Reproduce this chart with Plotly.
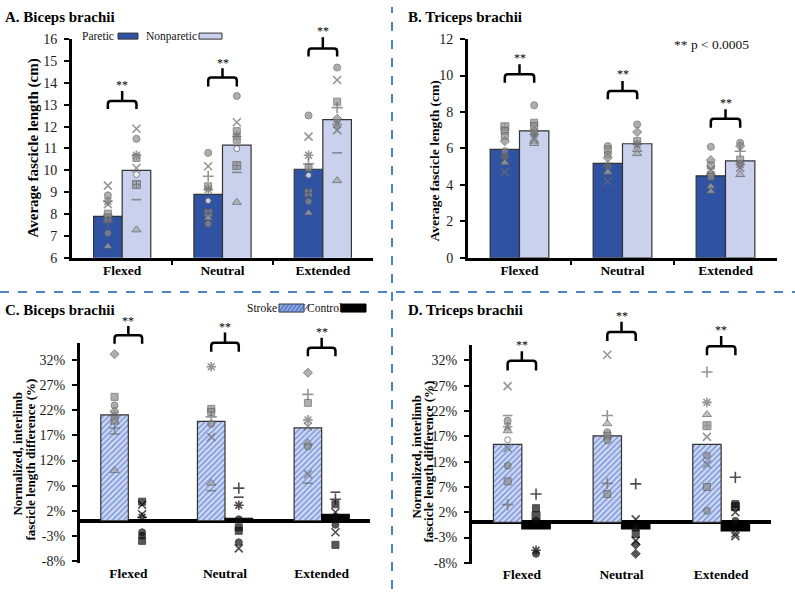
import plotly.graph_objects as go

FIG_W, FIG_H = 795, 597
FONT = "Liberation Serif"

categories = ["Flexed", "Neutral", "Extended"]

# ---------------- Panel A: Biceps brachii, average fascicle length (cm)
A_paretic_mean = [7.9, 8.9, 10.05]
A_nonparetic_mean = [10.0, 11.15, 12.32]
A_paretic_pts = [
    [9.30, 8.86, 8.58, 8.45, 8.02, 7.82, 7.62, 7.13, 6.52],
    [10.80, 10.19, 9.73, 9.27, 9.12, 8.61, 8.05, 7.82, 7.56],
    [12.51, 11.54, 10.69, 10.30, 10.11, 9.78, 8.97, 8.58, 8.05],
]
A_paretic_sym = ["x o * x s q + o t", "o x + s * w q t o", "o x * + s w q o t"]
A_nonparetic_pts = [
    [11.90, 11.44, 10.69, 10.57, 10.11, 9.81, 9.35, 8.66, 7.28],
    [13.40, 12.20, 11.79, 11.56, 11.40, 10.99, 10.22, 9.91, 8.54],
    [14.70, 14.13, 13.14, 12.87, 12.36, 12.10, 11.84, 10.80, 9.53],
]
A_nonparetic_sym = ["x o * s x w q - t", "o x s * s w q - t", "o x s + d * x - t"]

# ---------------- Panel B: Triceps brachii, average fascicle length (cm)
B_paretic_mean = [5.95, 5.18, 4.5]
B_nonparetic_mean = [6.97, 6.26, 5.32]
B_paretic_pts = [
    [7.19, 6.95, 6.68, 6.40, 5.85, 5.58, 5.39, 5.21, 4.70],
    [6.13, 5.94, 5.67, 5.49, 5.06, 4.88, 4.70, 4.20],
    [6.09, 5.36, 5.06, 4.84, 4.57, 4.44, 3.92, 3.65],
]
B_paretic_sym = ["q s s d o * x t x", "o s o d * x t x", "o d s x * s t t"]
B_nonparetic_pts = [
    [8.37, 7.41, 7.23, 6.95, 6.77, 6.59, 6.40, 6.27],
    [7.32, 6.90, 6.40, 6.22, 5.94, 5.72],
    [6.31, 6.13, 5.85, 5.39, 5.12, 4.94, 4.57],
]
B_nonparetic_sym = ["o s s d * x t t", "o d s * t t", "o d + s * x t"]

# ---------------- Panel C: Biceps brachii, normalized interlimb difference (%)
C_stroke_mean = [21.1, 19.8, 18.5]
C_control_mean = [0.2, 0.5, 1.3]
C_stroke_pts = [
    [33.2, 24.7, 23.0, 21.8, 21.0, 20.3, 19.7, 18.5, 17.3, 10.0],
    [30.7, 22.3, 21.7, 20.7, 19.3, 16.7, 7.5, 6.0],
    [29.5, 25.2, 23.5, 20.1, 18.8, 15.5, 14.8, 9.3, 7.5],
]
C_stroke_sym = ["d s o d * s t + - t", "* s s + o x t -", "d + s * x t o x -"]
C_control_pts = [
    [3.8, 3.2, 1.3, 0.7, -2.3, -3.0, -4.0],
    [6.5, 4.7, 3.1, 0.3, -1.3, -2.0, -4.3, -5.5],
    [5.7, 4.3, 3.3, 1.7, 0.7, -0.8, -2.3, -4.8],
]
C_control_sym = ["s x x * o o s", "+ - * o s s o x", "- + s x d o x s"]

# ---------------- Panel D: Triceps brachii, normalized interlimb difference (%)
D_stroke_mean = [15.4, 17.1, 15.4]
D_control_mean = [-1.3, -1.3, -1.7]
D_stroke_pts = [
    [26.9, 21.1, 20.1, 18.9, 18.1, 16.3, 14.7, 11.2, 8.1, 3.5],
    [33.1, 21.1, 19.5, 17.8, 17.1, 16.2, 7.7, 5.6],
    [29.7, 23.7, 21.3, 19.1, 16.9, 13.2, 11.5, 7.0, 2.3],
]
D_stroke_sym = ["x - o * t w x o s +", "x + t o s o + s", "+ * t q x o x s o"]
D_control_pts = [
    [5.6, 2.8, 1.3, 0.3, -0.3, -5.5, -6.2],
    [7.6, 0.6, -1.0, -2.3, -3.6, -4.4, -6.2],
    [8.9, 3.6, 3.1, 2.0, 0.3, -2.2, -2.7],
]
D_control_sym = ["+ s q o x * o", "+ x s s x d d", "+ s q x o x x"]

# significance bracket levels: (down ends, horizontal, stem top, stars)
A_brackets = [(12.8, 13.17, 13.63, 14.0), (13.83, 14.24, 14.67, 15.0), (15.2, 15.57, 16.08, 16.46)]
B_brackets = [(9.61, 10.07, 10.62, 11.08), (8.7, 9.15, 9.7, 10.17), (7.14, 7.63, 8.15, 8.6)]
C_brackets = [(35.3, 37.0, 38.8, 40.3), (33.7, 35.5, 37.5, 39.0), (32.8, 34.5, 36.5, 38.1)]
D_brackets = [(30.0, 31.9, 33.8, 35.4), (35.8, 37.6, 39.6, 41.1), (33.0, 34.8, 36.8, 38.3)]

# ---------------- layout geometry (target pixels)
BW = 0.285  # bar width in category units
PANELS = {
    "A": dict(ax="", xd=(72, 373), yd=(40, 258), yr=(6, 16)),
    "B": dict(ax="2", xd=(468, 777), yd=(40, 258), yr=(0, 12)),
    "C": dict(ax="3", xd=(80, 370), yd=(343, 562), yr=(-8.4, 35.4)),
    "D": dict(ax="4", xd=(472, 771), yd=(345, 563), yr=(-8.2, 35.0)),
}

# the photographed page maps page-y to picture-y as 8 + y*580/597; compensate
Y_OFF, Y_SCALE = 8.0, 580.0 / 597.0


def pxx(p, xv):
    g = PANELS[p]
    return g["xd"][0] + (xv + 0.5) / 3 * (g["xd"][1] - g["xd"][0])


def pxy(p, yv):
    g = PANELS[p]
    r0, r1 = g["yr"]
    return g["yd"][1] - (yv - r0) / (r1 - r0) * (g["yd"][1] - g["yd"][0])


def PX(x):
    return x / FIG_W


def PY(y):
    ypage = (y - Y_OFF) / Y_SCALE
    return 1 - ypage / FIG_H


GREY_FILL = "#8c8c8c"
GREY_LINE = "#5c5c5c"
SYMBOLS = {
    "o": ("circle", 7, True),
    "w": ("circle", 6, True),
    "s": ("square", 7, True),
    "q": ("square-cross", 8, True),
    "t": ("triangle-up", 8, True),
    "d": ("diamond", 7, True),
    "x": ("x-thin-open", 8, False),
    "*": ("asterisk-open", 8, False),
    "+": ("cross-thin-open", 8, False),
    "-": ("line-ew-open", 7, False),
}

fig = go.Figure()


def add_points(p, cat_i, offset, vals, codes, dark=False):
    ax = PANELS[p]["ax"]
    codes = codes.split()
    syms, sizes, cols, lcols, lw = [], [], [], [], []
    for c in codes:
        s, sz, filled = SYMBOLS[c]
        syms.append(s)
        sizes.append(sz)
        if dark:
            fill, line = "#111111", "#000000"
        else:
            fill, line = GREY_FILL, GREY_LINE
        if c == "w":
            fill = "#ffffff"
        if c == "t" and not dark:
            fill = "#a8a8a8"
        if filled:
            cols.append(fill)
            lcols.append(line)
            lw.append(1)
        else:
            cols.append("#000000" if dark else "#6a6a6a")
            lcols.append("#000000" if dark else "#6a6a6a")
            lw.append(1.6)
    fig.add_trace(go.Scatter(
        x=[cat_i + offset] * len(vals), y=vals, mode="markers",
        xaxis="x" + ax, yaxis="y" + ax, showlegend=False, cliponaxis=False,
        marker=dict(symbol=syms, size=sizes, color=cols,
                    line=dict(color=lcols, width=lw)),
        hoverinfo="y",
    ))


def add_bars(p, means, offset, color, pattern=None, line="#333333"):
    ax = PANELS[p]["ax"]
    marker = dict(color=color, line=dict(color=line, width=1.2))
    if pattern:
        marker["pattern"] = pattern
    fig.add_trace(go.Bar(
        x=list(range(len(categories))), y=means, width=BW, offset=offset,
        marker=marker, xaxis="x" + ax, yaxis="y" + ax, showlegend=False,
    ))


PARETIC = "#2f52a3"
NONPARETIC = "#c9d1ec"
STROKE_BG = "#dbe4f7"
STROKE_PAT = dict(shape="/", fgcolor="#3d62c6", bgcolor=STROKE_BG, size=4, solidity=0.55)

# Bars
add_bars("A", A_paretic_mean, -BW, PARETIC)
add_bars("A", A_nonparetic_mean, 0, NONPARETIC)
add_bars("B", B_paretic_mean, -BW, PARETIC)
add_bars("B", B_nonparetic_mean, 0, NONPARETIC)
add_bars("C", C_stroke_mean, -BW, STROKE_BG, STROKE_PAT)
add_bars("C", C_control_mean, 0, "#000000", line="#000000")
add_bars("D", D_stroke_mean, -BW, STROKE_BG, STROKE_PAT)
add_bars("D", D_control_mean, 0, "#000000", line="#000000")

# Points
for i in range(3):
    add_points("A", i, -BW / 2, A_paretic_pts[i], A_paretic_sym[i])
    add_points("A", i, BW / 2, A_nonparetic_pts[i], A_nonparetic_sym[i])
    add_points("B", i, -BW / 2, B_paretic_pts[i], B_paretic_sym[i])
    add_points("B", i, BW / 2, B_nonparetic_pts[i], B_nonparetic_sym[i])
    add_points("C", i, -BW / 2, C_stroke_pts[i], C_stroke_sym[i])
    add_points("C", i, BW / 2, C_control_pts[i], C_control_sym[i], dark=True)
    add_points("D", i, -BW / 2, D_stroke_pts[i], D_stroke_sym[i])
    add_points("D", i, BW / 2, D_control_pts[i], D_control_sym[i], dark=True)

# Axes
layout = dict(
    width=FIG_W, height=FIG_H, margin=dict(l=0, r=0, t=0, b=0),
    paper_bgcolor="white", plot_bgcolor="rgba(0,0,0,0)",
    font=dict(family=FONT, color="#111111"), barmode="overlay",
)
tick_font = dict(family=FONT, size=14, color="#1a1a1a")
cat_font = dict(family=FONT, size=13.5, color="#000000")
for p, g in PANELS.items():
    ax = g["ax"]
    pct = p in ("C", "D")
    xa = dict(
        domain=[PX(g["xd"][0]), PX(g["xd"][1])], range=[-0.5, 2.5],
        tickmode="array", tickvals=[0, 1, 2],
        ticktext=["<b>%s</b>" % c for c in categories],
        tickfont=cat_font, showgrid=False, zeroline=False,
        showline=not pct, linecolor="#000000", linewidth=3,
        ticks="", anchor="y" + ax, fixedrange=True,
        ticklabelstandoff=-2 if not pct else 1,
    )
    if not pct:
        xa["minor"] = dict(tickmode="array", tickvals=[0.5, 1.5], ticks="outside",
                           ticklen=4, tickwidth=2, tickcolor="#000000")
    ya = dict(
        domain=[PY(g["yd"][1]), PY(g["yd"][0])], range=list(g["yr"]),
        showgrid=False, showline=True, linecolor="#000000", linewidth=3,
        ticks="outside", ticklen=5, tickwidth=2, tickcolor="#000000",
        tickfont=tick_font, anchor="x" + ax, fixedrange=True,
        zeroline=pct, zerolinecolor="#000000", zerolinewidth=3.5,
        ticklabelstandoff=4,
    )
    if p == "A":
        ya.update(tickmode="linear", tick0=6, dtick=1)
    elif p == "B":
        ya.update(tickmode="linear", tick0=0, dtick=2)
    else:
        ya.update(tickmode="array", tickvals=list(range(-8, 33, 5)),
                  ticktext=["%d%%" % v for v in range(-8, 33, 5)])
    layout["xaxis" + ax] = xa
    layout["yaxis" + ax] = ya
fig.update_layout(**layout)

shapes = []
annotations = []

# Brackets
for p, br in (("A", A_brackets), ("B", B_brackets), ("C", C_brackets), ("D", D_brackets)):
    for i, (yd, yh, yt, ys) in enumerate(br):
        x0, x1, xm = pxx(p, i - BW / 2), pxx(p, i + BW / 2), pxx(p, i)
        Yd, Yh, Yt, Ys = pxy(p, yd), pxy(p, yh), pxy(p, yt), pxy(p, ys)
        r = 3
        path = (
            f"M {PX(x0)},{PY(Yd)} L {PX(x0)},{PY(Yh + r)} Q {PX(x0)},{PY(Yh)} {PX(x0 + r)},{PY(Yh)} "
            f"L {PX(x1 - r)},{PY(Yh)} Q {PX(x1)},{PY(Yh)} {PX(x1)},{PY(Yh + r)} L {PX(x1)},{PY(Yd)} "
            f"M {PX(xm)},{PY(Yh)} L {PX(xm)},{PY(Yt)}"
        )
        shapes.append(dict(type="path", xref="paper", yref="paper", path=path,
                           line=dict(color="#000000", width=2.5)))
        annotations.append(dict(xref="paper", yref="paper", x=PX(xm), y=PY(Ys + 2),
                                text="**", showarrow=False, xanchor="center", yanchor="middle",
                                font=dict(family=FONT, size=12, color="#000000")))

# Separators
shapes.append(dict(type="line", xref="paper", yref="paper", x0=0, x1=1, y0=PY(292), y1=PY(292),
                   line=dict(color="#4f81c7", width=2, dash="dash")))
shapes.append(dict(type="line", xref="paper", yref="paper", x0=PX(392), x1=PX(392), y0=0, y1=1,
                   line=dict(color="#4f81c7", width=2, dash="dash")))

# Legend A
shapes.append(dict(type="rect", xref="paper", yref="paper", x0=PX(118), x1=PX(138), y0=PY(40), y1=PY(34),
                   fillcolor=PARETIC, line=dict(color="#333333", width=1)))
shapes.append(dict(type="rect", xref="paper", yref="paper", x0=PX(199), x1=PX(222), y0=PY(40), y1=PY(34),
                   fillcolor=NONPARETIC, line=dict(color="#333333", width=1)))
leg_font = dict(family=FONT, size=11.5, color="#111111")
annotations.append(dict(xref="paper", yref="paper", x=PX(80), y=PY(37), text="Paretic",
                        showarrow=False, xanchor="left", yanchor="middle", font=leg_font))
annotations.append(dict(xref="paper", yref="paper", x=PX(144), y=PY(37), text="Nonparetic",
                        showarrow=False, xanchor="left", yanchor="middle", font=leg_font))
# Legend C
shapes.append(dict(type="rect", xref="paper", yref="paper", x0=PX(279), x1=PX(304), y0=PY(312), y1=PY(304),
                   fillcolor="#8ea5de", line=dict(color="#333333", width=1)))
for k in range(7):
    xa0 = 279 + 4 * k
    shapes.append(dict(type="line", xref="paper", yref="paper", x0=PX(xa0), x1=PX(xa0 + 6),
                       y0=PY(312), y1=PY(304), line=dict(color="#3a5fc2", width=1)))
shapes.append(dict(type="rect", xref="paper", yref="paper", x0=PX(341), x1=PX(366), y0=PY(312), y1=PY(304),
                   fillcolor="#000000", line=dict(color="#000000", width=1)))
annotations.append(dict(xref="paper", yref="paper", x=PX(245), y=PY(308), text="Stroke",
                        showarrow=False, xanchor="left", yanchor="middle", font=leg_font))
annotations.append(dict(xref="paper", yref="paper", x=PX(305), y=PY(308), text="Control",
                        showarrow=False, xanchor="left", yanchor="middle", font=leg_font))

# p-value note
annotations.append(dict(xref="paper", yref="paper", x=PX(672), y=PY(45), text="** p < 0.0005",
                        showarrow=False, xanchor="left", yanchor="middle",
                        font=dict(family=FONT, size=13.5, color="#111111")))

# Panel titles
title_font = dict(family=FONT, size=15, color="#000000")
for txt, x, y in (("A. Biceps brachii", 3, 18), ("B. Triceps brachii", 406, 18),
                  ("C. Biceps brachii", 3, 310), ("D. Triceps brachii", 406, 310)):
    annotations.append(dict(xref="paper", yref="paper", x=PX(x), y=PY(y), text="<b>%s</b>" % txt,
                            showarrow=False, xanchor="left", yanchor="middle", font=title_font))

# Y-axis titles
annotations.append(dict(xref="paper", yref="paper", x=PX(33), y=PY(149),
                        text="<b>Average fascicle length (cm)</b>", textangle=-90, showarrow=False,
                        xanchor="center", yanchor="middle", font=dict(family=FONT, size=15, color="#000")))
annotations.append(dict(xref="paper", yref="paper", x=PX(435), y=PY(162),
                        text="<b>Average fascicle length (cm)</b>", textangle=-90, showarrow=False,
                        xanchor="center", yanchor="middle", font=dict(family=FONT, size=13.5, color="#000")))
for x1, x2, yc1, yc2 in ((18, 31, 454, 459), (417, 429, 457, 461)):
    annotations.append(dict(xref="paper", yref="paper", x=PX(x1), y=PY(yc1),
                            text="<b>Normalized, interlimb</b>", textangle=-90, showarrow=False,
                            xanchor="center", yanchor="middle", font=dict(family=FONT, size=13, color="#000")))
    annotations.append(dict(xref="paper", yref="paper", x=PX(x2), y=PY(yc2),
                            text="<b>fascicle length difference (%)</b>", textangle=-90, showarrow=False,
                            xanchor="center", yanchor="middle", font=dict(family=FONT, size=13, color="#000")))

fig.update_layout(shapes=shapes, annotations=annotations)
fig.write_html(
    "out.html",
    config={"displayModeBar": False},
    post_script=(
        "var d=document.getElementById('{plot_id}');"
        "d.style.position='fixed';d.style.left='0px';d.style.top='0px';"
        "document.body.style.margin='0';document.documentElement.style.overflow='hidden';"
    ),
)
